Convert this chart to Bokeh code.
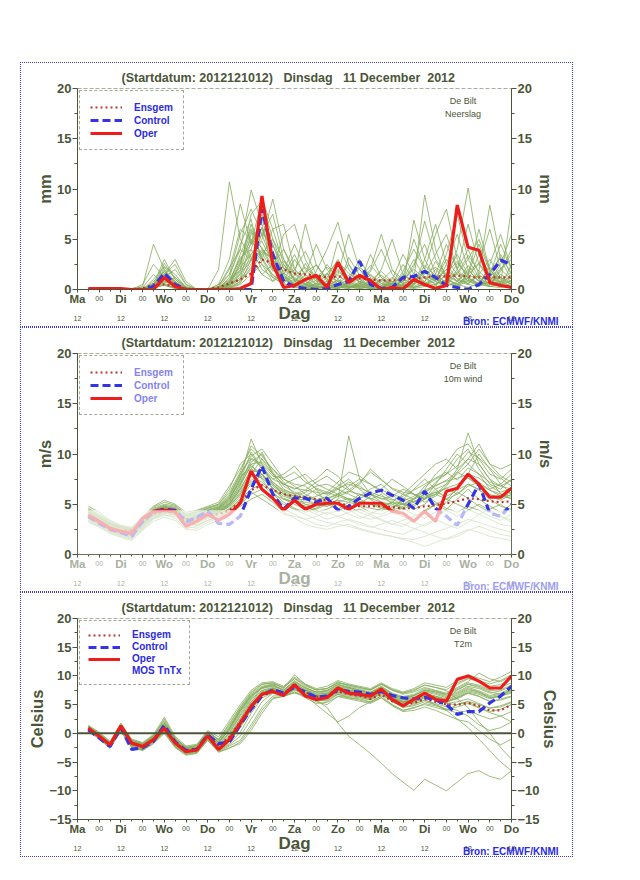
from bokeh.plotting import figure
from bokeh.models import (Range1d, FixedTicker, LinearAxis, Label, ColumnDataSource,
                          Legend, LegendItem, Span, BoxAnnotation, Spacer, Title)
from bokeh.layouts import column, row
from bokeh.embed import file_html
from bokeh.resources import INLINE

# ---------------- data ----------------
lead_hours = [6, 12, 18, 24, 30, 36, 42, 48, 54, 60, 66, 72, 78, 84, 90, 96, 102, 108, 114, 120,
              126, 132, 138, 144, 150, 156, 162, 168, 174, 180, 186, 192, 198, 204, 210, 216, 222, 228, 234, 240]
day_names = ["Ma", "Di", "Wo", "Do", "Vr", "Za", "Zo", "Ma", "Di", "Wo", "Do"]
half_day_label = "00"
noon_label = "12"
title_text = "(Startdatum: 2012121012)\u00a0\u00a0\u00a0Dinsdag\u00a0\u00a0\u00a011 December\u00a0\u00a02012"
source_text = "Bron: ECMWF/KNMI"

# precipitation (mm)
precip_oper = [0.1, 0.1, 0.1, 0.1, 0, 0, 0, 1.2, 0.3, 0,
               0, 0, 0, 0, 0.1, 0.6, 9.3, 2.5, 0.2, 0.4,
               1.0, 1.4, 0.2, 2.7, 0.7, 1.4, 0.9, 0, 0.2, 0.05,
               1.0, 0.5, 0.1, 0.4, 8.4, 4.2, 3.9, 0.7, 0.4, 0.2]
precip_control = [0, 0, 0, 0, 0, 0, 0.3, 1.6, 0.5, 0,
                  0, 0, 0, 0, 0, 0, 8.0, 3.5, 0.8, 0.3,
                  0.1, 0, 0.1, 0.5, 0.8, 2.8, 0.5, 0.1, 0.2, 1.2,
                  1.3, 1.8, 1.2, 0.4, 0.2, 0, 0.5, 1.5, 2.9, 2.5]
precip_mean = [0.05, 0.05, 0.05, 0.05, 0.05, 0.1, 0.5, 0.5, 0.3, 0.05,
               0.05, 0.05, 0.2, 0.6, 1.0, 1.6, 3.0, 2.6, 2.0, 1.6,
               1.5, 1.4, 1.2, 1.3, 1.2, 1.1, 1.0, 0.9, 0.9, 1.0,
               1.1, 1.2, 1.3, 1.3, 1.4, 1.3, 1.2, 1.2, 1.2, 1.2]
precip_members = [
    [0, 0, 0, 0, 0, 0, 0.2, 1.8, 0.5, 0, 0, 0, 2.0, 10.7, 5.0, 3.2, 1.5, 0.8, 2.5, 1.2,
     0.5, 0.3, 1.6, 0.8, 0.2, 0.5, 3.5, 1.2, 0.4, 0.8, 2.2, 6.8, 3.0, 1.5, 0.8, 2.4, 1.0, 0.6, 1.5, 0.8],
    [0, 0, 0, 0, 0.1, 0.3, 4.5, 2.0, 0.6, 0.1, 0, 0, 0.2, 1.5, 4.0, 9.9, 6.5, 2.0, 0.8, 3.0,
     1.5, 0.6, 0.2, 1.0, 2.5, 0.6, 0.3, 1.0, 0.5, 1.5, 0.6, 1.8, 0.9, 3.5, 7.5, 3.0, 1.2, 0.5, 2.0, 3.5],
    [0, 0, 0, 0, 0, 0.5, 2.5, 1.2, 0.2, 0, 0, 0, 0.5, 3.0, 8.5, 4.5, 7.0, 3.5, 1.2, 0.5,
     0.3, 1.8, 4.0, 6.7, 2.5, 1.0, 0.4, 0.2, 0.8, 0.3, 1.0, 9.4, 4.0, 1.0, 0.5, 1.5, 4.5, 1.8, 0.6, 0.2],
    [0, 0, 0, 0, 0, 0, 1.0, 2.3, 1.5, 0.2, 0, 0, 0, 0.8, 2.0, 7.5, 8.8, 5.0, 2.0, 1.0,
     0.5, 0.2, 0.4, 1.5, 5.5, 2.0, 0.6, 0.3, 0.2, 1.8, 4.0, 2.0, 5.5, 8.0, 3.0, 1.0, 0.4, 2.5, 5.5, 2.0],
    [0, 0, 0, 0, 0, 0, 0.5, 1.5, 2.5, 0.5, 0, 0, 0, 0.5, 1.0, 3.5, 5.0, 9.0, 4.0, 1.5,
     6.5, 2.5, 0.8, 0.3, 0.2, 0.6, 2.0, 5.5, 2.0, 0.5, 0.3, 0.8, 2.0, 1.0, 4.0, 10.1, 3.5, 1.0, 0.5, 0.8],
    [0, 0, 0, 0, 0, 0, 0.3, 0.8, 0.3, 0, 0, 0, 0.3, 2.0, 6.0, 5.0, 3.0, 6.0, 6.5, 2.0,
     0.8, 0.3, 0.1, 0.5, 1.0, 3.0, 1.2, 0.4, 0.1, 0.3, 6.9, 3.0, 1.0, 2.0, 0.8, 0.5, 1.8, 8.4, 3.0, 1.0],
    [0, 0, 0, 0, 0, 0, 0.2, 2.0, 0.8, 0, 0, 0, 0.1, 0.6, 3.5, 6.0, 4.0, 2.0, 5.5, 6.5,
     3.0, 1.0, 0.3, 0.1, 0.4, 0.2, 1.5, 0.6, 0.2, 1.0, 3.0, 1.2, 0.5, 1.5, 3.5, 1.5, 6.0, 2.0, 0.6, 8.1],
    [0, 0, 0, 0, 0, 0, 0.4, 1.0, 0.4, 0.1, 0, 0, 0, 0.2, 1.5, 4.0, 7.5, 4.5, 1.5, 0.5,
     0.2, 0.5, 2.5, 1.0, 0.3, 0.1, 0.5, 2.0, 5.0, 1.5, 0.8, 0.3, 1.5, 4.5, 2.0, 6.5, 2.5, 1.0, 3.5, 1.5],
    [0, 0, 0, 0, 0, 0.2, 1.5, 0.5, 0.1, 0, 0, 0, 0.5, 1.5, 5.5, 8.0, 5.5, 2.5, 1.0, 0.5,
     1.5, 4.5, 2.0, 0.5, 0.2, 0.1, 0.3, 1.0, 0.4, 0.2, 0.5, 3.0, 6.5, 2.5, 1.0, 0.6, 1.5, 0.5, 0.3, 2.5],
    [0, 0, 0, 0, 0, 0, 0.3, 1.2, 2.0, 0.5, 0, 0, 0, 0.3, 1.0, 2.5, 4.0, 3.0, 1.8, 4.5,
     2.0, 0.8, 0.5, 0.2, 0.1, 0.8, 0.4, 0.1, 0.2, 0.8, 2.5, 4.5, 1.5, 0.6, 2.0, 4.0, 1.5, 3.0, 1.2, 0.5],
    [0, 0, 0, 0, 0, 0, 0.5, 3.0, 1.0, 0.2, 0, 0, 0, 0.5, 2.5, 6.5, 3.0, 1.2, 0.6, 2.0,
     3.8, 1.5, 0.5, 2.0, 0.8, 0.3, 0.1, 0.2, 0.1, 0.3, 1.0, 0.5, 0.2, 2.5, 5.5, 2.0, 0.8, 0.4, 1.8, 4.0],
    [0, 0, 0, 0, 0, 0, 0.1, 0.5, 0.2, 0, 0, 0, 0.2, 1.0, 3.0, 4.5, 9.0, 6.0, 2.5, 1.0,
     0.4, 0.2, 1.2, 3.0, 1.0, 0.4, 1.8, 4.0, 1.5, 0.5, 0.2, 0.6, 1.2, 0.5, 1.5, 3.0, 5.0, 2.0, 0.8, 0.3],
    [0, 0, 0, 0, 0, 0, 0.2, 1.5, 3.0, 0.8, 0, 0, 0, 0.1, 0.8, 2.0, 3.5, 5.0, 3.0, 1.5,
     0.6, 0.3, 0.2, 0.1, 0.6, 1.5, 0.6, 0.2, 0.5, 2.5, 1.0, 0.4, 0.2, 0.8, 0.3, 1.5, 2.5, 6.0, 2.0, 1.0],
    [0, 0, 0, 0, 0, 0, 0.6, 1.2, 0.4, 0, 0, 0, 0.1, 1.2, 4.5, 7.0, 2.5, 0.8, 1.5, 3.5,
     1.2, 0.5, 0.8, 4.8, 2.0, 0.6, 0.2, 0.1, 0.3, 1.2, 5.0, 2.0, 0.8, 0.3, 0.8, 2.0, 0.8, 0.3, 0.5, 1.5],
    [0, 0, 0, 0, 0, 0, 0.2, 0.6, 0.2, 0, 0, 0, 0, 0.4, 1.8, 5.5, 6.0, 3.5, 1.0, 0.4,
     0.2, 0.1, 0.3, 0.6, 0.3, 0.1, 0.2, 0.8, 0.3, 0.1, 0.4, 1.5, 3.5, 5.5, 2.0, 0.8, 0.4, 1.2, 0.6, 0.2],
    [0, 0, 0, 0, 0, 0, 0.3, 2.6, 1.0, 0.1, 0, 0, 0, 0.2, 0.6, 3.0, 5.5, 7.5, 3.0, 0.8,
     0.3, 0.6, 1.5, 0.8, 0.3, 0.2, 0.5, 0.2, 1.0, 3.5, 1.5, 0.6, 0.2, 0.6, 1.8, 0.8, 3.5, 1.5, 4.5, 2.0],
    [0, 0, 0, 0, 0, 0, 0.1, 0.9, 0.6, 0.1, 0, 0, 0.1, 0.8, 3.2, 4.0, 2.0, 1.2, 0.5, 0.3,
     0.1, 0.2, 0.1, 0.3, 0.1, 0.4, 0.1, 0.1, 0.2, 0.4, 0.2, 0.5, 0.8, 0.4, 0.6, 1.2, 0.4, 0.8, 0.3, 0.6],
    [0, 0, 0, 0, 0, 0, 0.4, 1.6, 0.8, 0, 0, 0, 0.3, 2.2, 4.0, 3.0, 1.5, 2.5, 4.0, 2.0,
     1.0, 2.5, 1.0, 0.4, 0.2, 0.6, 0.3, 0.2, 0.6, 0.3, 0.6, 2.0, 1.0, 3.0, 1.5, 0.5, 0.3, 0.8, 2.5, 5.5],
    [0, 0, 0, 0, 0, 0, 0.2, 0.4, 0.1, 0, 0, 0, 0, 0.1, 0.5, 1.5, 2.5, 1.5, 0.6, 0.2,
     0.1, 0.1, 0.2, 0.1, 0.5, 0.3, 0.1, 0.3, 0.6, 0.2, 0.1, 0.3, 0.5, 1.0, 0.5, 0.2, 0.6, 0.3, 0.2, 0.4],
    [0, 0, 0, 0, 0, 0, 0.8, 1.8, 0.7, 0.2, 0, 0, 0, 0.6, 2.8, 5.0, 4.2, 2.2, 1.0, 0.6,
     2.6, 1.0, 0.4, 0.2, 3.2, 1.4, 0.5, 0.2, 0.1, 0.5, 1.6, 0.8, 2.8, 1.2, 0.4, 1.1, 0.6, 2.2, 1.0, 0.5],
    [0, 0, 0, 0, 0, 0, 0.3, 1.1, 0.4, 0, 0, 0, 0.2, 0.9, 2.2, 3.5, 4.8, 2.6, 1.2, 0.8,
     1.8, 2.4, 1.0, 0.6, 1.4, 2.0, 0.8, 0.4, 1.2, 0.6, 0.9, 1.6, 2.2, 1.4, 0.8, 1.8, 2.6, 1.2, 0.7, 1.3],
    [0, 0, 0, 0, 0, 0, 0.1, 0.7, 1.2, 0.3, 0, 0, 0, 0.4, 1.6, 2.8, 6.2, 3.8, 1.6, 0.9,
     0.6, 1.2, 2.2, 1.4, 0.7, 0.3, 0.9, 1.8, 0.8, 0.4, 1.4, 0.7, 0.4, 1.6, 2.8, 1.2, 0.6, 1.8, 3.2, 1.6],
    [0, 0, 0, 0, 0, 0.1, 0.6, 1.4, 0.6, 0.1, 0, 0, 0.1, 0.5, 1.2, 4.8, 3.6, 1.8, 2.8, 1.6,
     0.8, 0.4, 0.6, 1.8, 0.9, 2.2, 1.4, 0.6, 0.3, 0.9, 2.0, 1.1, 0.6, 0.9, 1.6, 3.4, 1.8, 0.8, 1.2, 0.7],
    [0, 0, 0, 0, 0, 0, 0.2, 1.0, 0.3, 0, 0, 0, 0, 0.3, 2.6, 5.8, 3.2, 1.4, 0.7, 1.4,
     2.2, 1.1, 0.5, 0.3, 0.6, 1.0, 2.4, 1.2, 0.5, 0.2, 0.5, 1.3, 0.9, 2.0, 1.1, 0.6, 1.4, 0.9, 2.1, 3.0],
    [0, 0, 0, 0, 0, 0, 0.4, 2.2, 1.2, 0.2, 0, 0, 0.1, 0.7, 1.9, 3.0, 5.6, 4.4, 2.2, 1.1,
     0.5, 0.9, 1.6, 2.8, 1.6, 0.8, 0.4, 0.9, 1.9, 1.0, 0.6, 2.4, 1.4, 0.7, 2.6, 1.5, 0.9, 0.5, 0.8, 1.8],
    [0, 0, 0, 0, 0, 0, 0.2, 0.8, 0.5, 0.1, 0, 0, 0, 0.2, 0.8, 2.2, 3.8, 3.0, 1.4, 0.6,
     0.3, 0.2, 0.4, 0.9, 0.5, 0.3, 0.6, 1.4, 0.7, 0.3, 0.2, 0.5, 1.0, 0.6, 0.3, 0.9, 0.5, 0.3, 0.6, 0.9],
]

# 10 m wind (m/s)
wind_oper = [3.9, 3.3, 2.6, 2.3, 2.1, 3.6, 4.3, 4.4, 4.3, 2.8,
             3.3, 4.0, 3.4, 4.0, 5.1, 8.3, 6.5, 5.6, 4.4, 5.4,
             4.5, 5.0, 5.1, 5.1, 4.5, 5.1, 5.1, 5.1, 4.3, 4.1,
             3.3, 4.3, 3.3, 6.3, 6.6, 8.0, 7.0, 5.7, 5.7, 6.6]
wind_control = [3.8, 3.1, 2.5, 2.2, 1.8, 3.3, 4.3, 4.5, 4.4, 3.2,
                3.7, 4.3, 3.1, 3.0, 3.8, 6.5, 8.8, 6.0, 4.5, 5.6,
                5.6, 5.2, 5.6, 4.4, 4.8, 5.6, 6.1, 6.4, 5.9, 5.4,
                4.6, 6.3, 4.6, 3.8, 2.9, 5.0, 7.0, 4.1, 3.8, 5.0]
wind_mean = [3.8, 3.2, 2.6, 2.3, 2.4, 3.2, 4.1, 4.3, 4.2, 3.5,
             3.6, 4.0, 4.0, 4.4, 5.2, 6.4, 6.9, 6.4, 6.0, 5.8,
             5.7, 5.5, 5.4, 5.1, 4.9, 4.8, 4.8, 4.8, 4.7, 4.6,
             4.6, 4.8, 4.9, 5.1, 5.3, 5.6, 5.5, 5.3, 5.2, 5.3]
wind_members = [
    [4.2, 3.6, 3.0, 2.6, 2.4, 3.4, 4.3, 4.6, 4.4, 3.6, 3.8, 4.2, 4.5, 5.5, 7.5, 11.5, 9.0, 7.0, 6.2, 5.5,
     5.8, 6.5, 5.0, 4.5, 5.2, 6.0, 5.5, 4.8, 4.2, 4.6, 5.5, 6.8, 7.5, 8.0, 9.5, 10.5, 8.5, 7.0, 6.5, 7.5],
    [3.8, 3.2, 2.6, 2.2, 2.0, 3.0, 4.0, 4.4, 4.2, 3.2, 3.4, 4.0, 4.2, 5.0, 6.5, 8.5, 10.2, 8.0, 6.5, 6.0,
     5.5, 5.0, 4.8, 5.5, 11.8, 7.5, 6.0, 5.2, 4.8, 5.0, 4.5, 5.0, 6.0, 7.0, 8.5, 12.1, 9.0, 7.5, 6.0, 5.5],
    [4.5, 3.9, 3.2, 2.8, 2.6, 3.6, 4.6, 5.0, 4.8, 4.0, 4.2, 4.6, 5.0, 6.5, 9.0, 10.0, 8.5, 7.5, 8.0, 8.8,
     7.5, 6.5, 6.0, 6.8, 7.5, 6.5, 5.5, 6.0, 5.0, 4.5, 5.0, 5.5, 6.0, 5.5, 5.0, 4.5, 4.0, 4.5, 5.0, 4.2],
    [3.5, 3.0, 2.4, 2.0, 1.8, 2.8, 3.8, 4.2, 4.0, 3.0, 3.0, 3.6, 4.0, 4.5, 5.5, 7.0, 8.0, 6.5, 5.5, 5.0,
     4.5, 4.0, 3.5, 3.8, 4.2, 4.5, 4.0, 3.5, 3.0, 2.8, 3.5, 4.2, 5.0, 5.5, 6.0, 7.0, 6.5, 5.5, 4.8, 4.5],
    [4.0, 3.4, 2.8, 2.4, 2.2, 3.2, 4.2, 4.5, 4.3, 3.4, 3.6, 4.0, 4.4, 5.2, 7.0, 9.5, 8.8, 7.5, 7.0, 6.5,
     7.0, 7.5, 8.5, 7.8, 6.5, 5.8, 6.5, 7.0, 6.0, 5.0, 4.8, 5.5, 7.0, 8.5, 10.0, 9.0, 8.0, 6.5, 7.0, 8.0],
    [3.7, 3.1, 2.5, 2.1, 1.9, 2.9, 3.9, 4.3, 4.1, 3.1, 3.2, 3.8, 4.1, 4.8, 6.0, 8.0, 9.5, 8.5, 7.2, 6.0,
     5.0, 4.5, 5.0, 6.0, 5.5, 4.8, 4.2, 4.0, 4.5, 5.5, 6.5, 7.5, 6.5, 5.5, 6.5, 8.0, 10.0, 8.5, 7.0, 6.0],
    [4.8, 4.2, 3.4, 2.9, 2.7, 3.8, 4.8, 5.4, 5.0, 4.2, 4.4, 4.8, 5.2, 6.8, 8.5, 10.5, 9.5, 8.0, 7.0, 7.5,
     8.0, 7.0, 6.5, 6.0, 5.5, 5.0, 5.8, 6.5, 7.5, 6.8, 6.0, 5.5, 6.5, 7.0, 8.0, 9.0, 10.5, 9.0, 8.5, 9.0],
    [3.3, 2.8, 2.2, 1.8, 1.5, 2.5, 3.5, 3.9, 3.8, 2.8, 2.6, 3.2, 3.6, 4.2, 5.0, 6.0, 6.5, 5.5, 4.5, 4.0,
     3.5, 3.0, 2.8, 3.2, 3.5, 3.2, 2.8, 2.5, 2.2, 2.0, 2.5, 3.0, 3.5, 3.0, 2.6, 3.2, 4.0, 3.5, 3.0, 2.8],
    [4.1, 3.5, 2.9, 2.5, 2.3, 3.3, 4.1, 4.4, 4.0, 3.0, 3.5, 4.1, 4.3, 5.0, 6.8, 9.0, 7.5, 6.0, 5.5, 5.2,
     4.8, 4.2, 4.5, 5.0, 4.5, 3.8, 3.5, 3.8, 4.2, 3.8, 3.2, 2.8, 3.5, 4.5, 5.5, 6.5, 5.5, 4.8, 4.2, 5.0],
    [3.9, 3.3, 2.7, 2.3, 2.1, 3.1, 4.0, 4.6, 4.5, 3.8, 3.9, 4.4, 4.8, 5.8, 8.0, 9.8, 10.5, 9.0, 7.5, 6.8,
     6.0, 5.5, 5.2, 5.8, 6.2, 7.0, 8.5, 7.5, 6.5, 6.0, 7.0, 8.0, 9.0, 9.5, 8.5, 9.5, 9.0, 7.5, 6.8, 6.5],
    [3.6, 3.0, 2.4, 2.0, 1.7, 2.7, 3.6, 4.0, 3.6, 2.6, 2.8, 3.4, 3.8, 4.4, 5.5, 6.5, 7.0, 6.0, 5.0, 4.5,
     4.0, 3.5, 3.2, 3.0, 2.8, 2.5, 2.2, 2.0, 1.8, 1.6, 1.5, 1.8, 2.2, 2.6, 3.0, 3.5, 3.2, 2.8, 2.5, 2.2],
    [4.3, 3.7, 3.1, 2.7, 2.5, 3.5, 4.4, 4.8, 4.6, 3.8, 4.0, 4.5, 4.7, 5.8, 7.8, 8.5, 8.0, 7.0, 6.0, 5.8,
     6.2, 6.8, 7.0, 6.5, 6.0, 5.5, 5.0, 4.8, 5.2, 6.0, 5.5, 6.0, 5.2, 4.6, 4.2, 4.8, 4.4, 3.8, 3.4, 4.0],
    [3.4, 2.9, 2.3, 1.9, 1.6, 2.6, 3.6, 4.1, 3.9, 3.0, 2.9, 3.4, 3.7, 4.3, 5.2, 6.2, 5.5, 4.8, 4.0, 3.8,
     3.5, 3.8, 4.2, 3.8, 3.4, 3.0, 2.7, 3.0, 3.4, 3.0, 2.6, 2.2, 1.8, 1.5, 1.8, 2.4, 2.8, 2.4, 2.0, 1.8],
    [4.6, 4.0, 3.3, 2.8, 2.6, 3.7, 4.7, 5.2, 4.9, 4.0, 4.3, 4.7, 5.0, 6.2, 8.2, 10.8, 9.8, 8.5, 7.5, 7.0,
     6.8, 6.0, 5.5, 6.0, 6.8, 7.5, 7.0, 6.2, 5.5, 5.0, 5.5, 6.5, 8.0, 9.0, 10.5, 11.0, 9.5, 8.0, 7.5, 8.5],
    [3.2, 2.7, 2.1, 1.7, 1.4, 2.4, 3.3, 3.7, 3.4, 2.5, 2.4, 3.0, 3.4, 4.0, 4.8, 5.5, 6.0, 5.2, 4.2, 3.6,
     3.0, 2.7, 2.5, 2.8, 3.0, 2.6, 2.3, 2.0, 1.8, 1.5, 1.2, 0.8, 1.2, 1.6, 2.0, 2.5, 2.2, 1.8, 1.6, 1.4],
    [4.0, 3.4, 2.8, 2.4, 2.2, 3.2, 4.2, 4.7, 4.6, 3.6, 3.7, 4.2, 4.6, 5.6, 7.2, 9.2, 10.0, 8.2, 6.8, 6.2,
     5.8, 5.4, 5.8, 6.5, 7.2, 6.8, 6.0, 5.5, 5.8, 6.5, 6.0, 5.2, 5.8, 6.8, 8.2, 9.5, 11.0, 9.0, 7.8, 7.2],
    [3.6, 3.1, 2.5, 2.1, 1.9, 2.8, 3.7, 4.2, 4.1, 3.2, 3.3, 3.9, 4.2, 4.9, 6.2, 7.8, 7.2, 6.2, 5.2, 4.6,
     4.2, 4.6, 5.2, 4.6, 4.0, 3.6, 4.0, 4.6, 5.2, 4.6, 4.0, 3.6, 4.2, 5.2, 6.2, 5.6, 4.8, 4.2, 3.8, 3.4],
    [4.4, 3.8, 3.1, 2.7, 2.5, 3.5, 4.5, 4.9, 4.7, 3.9, 4.1, 4.6, 4.9, 6.0, 8.0, 9.6, 9.0, 7.8, 7.6, 8.2,
     7.2, 6.6, 6.2, 7.2, 8.2, 7.8, 7.0, 6.4, 6.0, 5.6, 5.2, 6.0, 7.2, 8.0, 8.8, 10.2, 9.6, 8.6, 7.6, 6.8],
    [3.8, 3.2, 2.6, 2.2, 2.0, 3.0, 3.9, 4.3, 4.0, 3.1, 3.2, 3.7, 4.0, 4.6, 5.8, 7.2, 7.8, 6.6, 5.6, 5.2,
     4.8, 4.4, 4.0, 4.4, 4.8, 4.2, 3.8, 3.4, 3.0, 3.4, 3.8, 4.4, 5.0, 4.4, 3.8, 4.4, 5.0, 4.4, 3.8, 3.2],
    [4.2, 3.6, 3.0, 2.6, 2.4, 3.4, 4.4, 4.8, 4.5, 3.5, 3.7, 4.3, 4.6, 5.4, 7.4, 10.2, 8.6, 7.2, 6.4, 6.0,
     6.4, 7.2, 7.8, 7.0, 6.4, 7.2, 8.2, 7.4, 6.6, 6.2, 6.0, 5.6, 6.0, 6.6, 7.0, 7.6, 6.8, 6.0, 5.6, 6.2],
    [4.0, 3.4, 2.7, 2.3, 2.1, 3.2, 4.1, 4.5, 4.3, 3.4, 3.5, 4.1, 4.4, 5.1, 6.6, 8.2, 8.4, 7.2, 6.3, 5.8,
     5.6, 5.4, 5.6, 6.0, 6.3, 6.0, 5.6, 5.2, 5.0, 5.3, 5.8, 6.4, 6.9, 7.3, 7.6, 8.0, 7.6, 6.8, 6.2, 6.6],
    [3.7, 3.1, 2.5, 2.1, 1.9, 3.0, 3.9, 4.3, 4.1, 3.2, 3.3, 3.9, 4.2, 4.8, 6.0, 7.4, 8.0, 7.0, 6.0, 5.4,
     5.0, 4.8, 5.0, 5.4, 5.2, 4.9, 4.6, 4.4, 4.7, 5.0, 5.3, 5.6, 6.2, 6.6, 6.0, 6.8, 7.2, 6.4, 5.8, 5.6],
    [4.3, 3.7, 3.0, 2.6, 2.4, 3.5, 4.4, 4.7, 4.5, 3.6, 3.8, 4.4, 4.7, 5.6, 7.6, 9.0, 9.2, 8.0, 7.0, 6.6,
     6.4, 6.2, 6.0, 6.6, 7.0, 6.6, 6.2, 5.8, 5.4, 5.8, 6.4, 7.0, 7.6, 8.2, 7.4, 8.6, 8.0, 7.2, 6.8, 7.4],
    [3.9, 3.3, 2.6, 2.2, 2.0, 3.1, 4.0, 4.4, 4.2, 3.3, 3.4, 4.0, 4.3, 5.0, 6.4, 8.0, 7.6, 6.6, 5.8, 5.4,
     5.2, 5.0, 4.8, 5.2, 5.6, 5.3, 5.0, 4.6, 4.4, 4.8, 5.2, 5.8, 6.2, 5.8, 6.4, 7.0, 6.4, 5.8, 5.4, 6.0],
    [4.1, 3.5, 2.8, 2.4, 2.2, 3.3, 4.2, 4.6, 4.4, 3.5, 3.6, 4.2, 4.5, 5.3, 7.0, 8.8, 8.0, 6.8, 6.0, 5.6,
     5.4, 5.8, 6.2, 5.8, 5.4, 5.6, 6.0, 5.6, 5.2, 5.0, 5.6, 6.2, 6.8, 7.4, 8.2, 7.6, 7.0, 6.4, 6.0, 5.8],
]

# 2 m temperature (Celsius)
t2m_oper = [0.9, -0.5, -2.0, 1.3, -1.7, -2.3, -1.1, 0.9, -1.7, -3.2,
            -2.9, -0.4, -2.8, -1.1, 1.8, 4.7, 6.8, 7.3, 6.6, 8.5,
            6.5, 5.9, 6.2, 7.9, 7.0, 6.8, 6.5, 7.7, 5.9, 4.8,
            5.9, 7.0, 5.9, 5.6, 9.4, 10.0, 9.1, 7.9, 7.9, 10.0]
t2m_control = [0.6, -0.8, -2.3, 1.0, -2.8, -2.5, -1.4, 1.4, -1.5, -3.0,
               -2.8, -0.3, -1.8, -1.5, 1.5, 4.2, 6.5, 7.6, 7.0, 8.0,
               7.2, 6.3, 6.5, 7.6, 7.3, 7.2, 6.8, 7.3, 6.6, 6.2,
               6.0, 6.3, 5.8, 5.0, 3.3, 3.8, 3.8, 5.3, 6.5, 8.2]
t2m_mean = [0.8, -0.5, -2.0, 1.0, -1.8, -2.3, -1.0, 1.0, -1.6, -3.0,
            -2.7, -0.4, -2.2, -0.6, 2.0, 4.8, 6.8, 7.6, 7.0, 8.2,
            7.2, 6.4, 6.4, 7.3, 6.8, 6.5, 6.0, 6.8, 5.6, 4.9,
            5.3, 6.0, 5.5, 5.0, 5.0, 5.3, 4.8, 4.0, 4.0, 5.0]
t2m_members = [
    [1.0, -0.3, -1.8, 1.0, -1.5, -2.0, -0.8, 1.5, -1.2, -2.8, -2.5, -0.2, -1.5, 0.5, 3.5, 6.0, 7.5, 8.0, 7.2, 8.8,
     7.5, 6.8, 7.0, 8.2, 7.6, 7.2, 6.8, 7.8, 6.5, 5.8, 6.2, 7.0, 6.5, 6.0, 7.5, 8.5, 8.0, 7.2, 6.8, 7.5],
    [0.6, -0.8, -2.4, 0.6, -2.2, -2.8, -1.5, 0.5, -2.2, -3.5, -3.2, -1.0, -3.0, -2.0, -0.5, 2.5, 5.5, 7.0, 6.8, 7.5,
     6.8, 6.0, 6.2, 7.2, 6.8, 6.5, 6.0, 7.0, 5.5, 4.5, 4.8, 5.5, 5.0, 4.2, 3.5, 4.0, 3.2, 2.5, 3.0, 3.8],
    [1.3, 0.0, -1.5, 1.6, -1.2, -1.8, -0.5, 2.5, -0.8, -2.5, -2.2, 0.3, -1.0, 1.5, 4.5, 7.0, 8.5, 8.8, 7.8, 10.2,
     8.5, 7.5, 7.8, 9.0, 8.2, 7.8, 7.5, 8.5, 7.5, 6.8, 7.2, 8.0, 7.5, 7.0, 8.5, 9.5, 9.0, 8.2, 8.5, 9.5],
    [0.4, -1.0, -2.6, 0.3, -2.5, -3.0, -1.8, 0.0, -2.5, -3.8, -3.5, -1.2, -3.2, -2.5, -1.8, 0.5, 3.5, 6.0, 6.5, 7.0,
     6.5, 5.5, 5.0, 6.5, 6.2, 6.0, 5.5, 6.5, 5.0, 4.0, 4.5, 5.0, 4.5, 4.0, 5.0, 5.5, 4.5, 3.8, 4.2, 5.0],
    [0.9, -0.4, -1.9, 1.2, -1.8, -2.4, -1.0, 1.0, -1.6, -3.0, -2.8, -0.5, -2.5, -0.8, 2.0, 5.0, 7.0, 7.5, 7.0, 8.2,
     7.0, 6.2, 6.5, 7.5, 7.0, 6.8, 6.2, 7.2, 6.0, 5.2, 5.5, 6.5, 6.0, 5.5, 6.0, 7.0, 6.5, 5.5, 6.0, 6.5],
    [1.1, -0.2, -1.7, 1.4, -1.4, -1.9, -0.6, 1.8, -1.0, -2.6, -2.4, 0.0, -1.8, 0.8, 4.0, 6.5, 8.0, 8.5, 7.5, 9.0,
     8.0, 7.2, 7.5, 8.5, 8.0, 7.5, 7.0, 8.0, 6.8, 6.0, 6.5, 7.5, 7.2, 6.8, 8.0, 9.0, 10.5, 9.5, 9.0, 10.0],
    [0.7, -0.7, -2.2, 0.8, -2.0, -2.6, -1.3, 0.6, -2.0, -3.3, -3.0, -0.8, -2.8, -1.5, 1.0, 4.0, 6.5, 7.2, 6.6, 7.8,
     6.8, 5.0, 3.5, 2.0, 3.0, 4.5, 5.5, 6.5, 6.0, 5.5, 6.0, 6.8, 6.2, 5.5, 6.2, 7.2, 6.8, 6.0, 6.5, 7.0],
    [0.8, -0.6, -2.1, 1.1, -1.9, -2.5, -1.2, 0.8, -1.8, -3.1, -2.9, -0.6, -2.6, -1.2, 1.5, 4.5, 6.8, 7.8, 7.2, 8.0,
     6.5, 5.8, 4.5, 1.8, -0.5, -2.0, -3.5, -5.2, -7.0, -8.5, -9.9, -8.0, -9.0, -10.0, -8.5, -7.0, -6.5, -7.5, -8.0, -6.5],
    [1.2, -0.1, -1.6, 1.5, -1.3, -1.8, -0.4, 2.0, -0.9, -2.4, -2.1, 0.2, -1.2, 1.2, 4.2, 6.8, 8.2, 8.6, 8.0, 9.5,
     8.2, 7.6, 7.8, 8.8, 8.4, 8.0, 7.6, 8.6, 7.6, 7.0, 7.6, 8.4, 8.0, 7.4, 6.0, 4.5, 2.0, 0.0, -2.5, -4.5],
    [0.5, -0.9, -2.5, 0.5, -2.3, -2.9, -1.6, 0.3, -2.3, -3.6, -3.3, -1.1, -3.1, -2.2, -1.2, 1.5, 4.5, 6.5, 6.6, 7.2,
     6.6, 5.8, 5.6, 6.8, 6.4, 6.2, 5.8, 6.8, 5.6, 4.6, 5.0, 5.8, 5.2, 4.6, 4.0, 3.0, 1.5, 0.5, 1.0, 2.0],
    [1.0, -0.4, -1.9, 1.3, -1.6, -2.2, -0.9, 1.2, -1.4, -2.9, -2.6, -0.3, -2.0, 0.0, 3.0, 5.5, 7.2, 7.6, 7.0, 8.4,
     7.2, 6.4, 6.6, 7.6, 7.2, 7.0, 6.6, 7.4, 6.2, 5.4, 5.8, 6.8, 6.4, 5.8, 6.8, 7.8, 7.2, 6.2, 6.4, 7.2],
    [0.8, -0.5, -2.0, 1.2, -1.7, -2.3, -1.1, 1.1, -1.5, -3.0, -2.7, -0.4, -2.2, -0.5, 2.5, 5.2, 7.0, 7.4, 6.8, 8.0,
     7.0, 6.5, 6.8, 7.8, 7.3, 7.0, 6.5, 7.5, 6.3, 5.5, 5.2, 5.8, 5.0, 4.0, 2.5, 1.0, -1.0, -3.0, -5.0, -6.5],
    [1.4, 0.2, -1.4, 1.8, -1.0, -1.6, -0.2, 2.8, -0.5, -2.2, -1.9, 0.5, -0.6, 2.2, 5.0, 7.5, 8.8, 9.0, 8.2, 9.8,
     8.6, 7.8, 8.2, 9.2, 8.6, 8.2, 7.8, 8.8, 7.8, 7.2, 7.8, 8.8, 8.4, 8.0, 9.2, 10.2, 9.6, 9.0, 9.8, 10.8],
    [0.6, -0.7, -2.3, 0.7, -2.1, -2.7, -1.4, 0.4, -2.1, -3.4, -3.1, -0.9, -2.9, -1.8, 0.2, 3.5, 6.2, 7.0, 6.5, 7.6,
     6.8, 6.0, 6.0, 7.0, 6.6, 6.4, 6.0, 7.0, 5.8, 5.0, 5.4, 6.2, 5.8, 5.2, 5.5, 6.0, 5.2, 4.4, 4.8, 5.5],
    [1.1, -0.3, -1.8, 1.3, -1.6, -2.1, -0.8, 1.4, -1.3, -2.8, -2.5, -0.1, -1.6, 0.6, 3.8, 6.2, 7.8, 8.2, 7.4, 8.6,
     7.6, 7.0, 7.2, 8.2, 7.8, 7.4, 7.0, 8.0, 6.8, 6.2, 6.6, 7.4, 7.0, 6.4, 7.2, 8.2, 7.8, 7.0, 7.4, 8.2],
    [0.7, -0.6, -2.1, 0.9, -1.9, -2.5, -1.2, 0.7, -1.9, -3.2, -2.9, -0.7, -2.7, -1.4, 1.2, 4.2, 6.6, 7.4, 6.8, 7.8,
     6.6, 5.6, 5.8, 6.8, 6.2, 5.8, 5.4, 6.2, 4.8, 3.8, 4.0, 4.6, 4.0, 3.2, 2.4, 2.0, 0.5, -1.0, -2.0, -1.0],
    [1.0, -0.2, -1.7, 1.4, -1.5, -2.0, -0.7, 1.6, -1.1, -2.7, -2.4, 0.1, -1.4, 1.0, 4.2, 6.6, 8.0, 8.4, 7.6, 9.2,
     7.8, 7.2, 7.4, 8.6, 8.0, 7.6, 7.2, 8.2, 7.0, 6.4, 6.8, 7.8, 7.4, 6.8, 7.8, 8.8, 8.4, 7.6, 8.0, 8.8],
    [0.9, -0.5, -2.0, 1.1, -1.8, -2.4, -1.1, 0.9, -1.7, -3.1, -2.8, -0.5, -2.4, -1.0, 1.8, 4.8, 7.0, 7.6, 7.0, 8.2,
     7.0, 6.2, 6.4, 7.4, 7.0, 6.6, 6.2, 7.2, 6.0, 5.4, 5.8, 6.6, 6.2, 5.6, 6.4, 7.4, 7.0, 6.2, 6.6, 7.4],
    [0.5, -0.8, -2.4, 0.4, -2.4, -2.9, -1.7, 0.2, -2.4, -3.7, -3.4, -1.2, -3.3, -2.6, -1.5, 1.0, 4.0, 6.2, 6.4, 7.2,
     6.2, 5.2, 5.4, 6.4, 6.0, 5.6, 5.2, 6.2, 5.0, 4.0, 4.4, 5.2, 4.8, 4.2, 4.6, 5.2, 4.4, 3.6, 3.0, 2.0],
    [1.2, 0.0, -1.6, 1.6, -1.2, -1.7, -0.4, 2.2, -0.8, -2.4, -2.1, 0.3, -1.1, 1.8, 4.6, 7.2, 8.6, 8.8, 8.0, 9.6,
     8.4, 7.6, 7.8, 8.8, 8.4, 8.0, 7.6, 8.6, 7.6, 7.0, 7.4, 8.4, 8.0, 7.6, 8.8, 9.6, 9.2, 8.6, 9.2, 10.2],
    [0.8, -0.6, -2.1, 1.1, -1.8, -2.4, -1.1, 1.0, -1.6, -3.0, -2.7, -0.4, -2.2, -0.3, 2.6, 5.4, 7.2, 7.8, 7.2, 8.4,
     7.4, 6.6, 6.8, 7.8, 7.4, 7.0, 6.6, 7.6, 6.4, 5.6, 6.0, 6.8, 6.4, 5.9, 6.6, 7.6, 7.2, 6.4, 6.8, 7.6],
    [1.0, -0.4, -1.9, 1.2, -1.7, -2.2, -0.9, 1.3, -1.4, -2.9, -2.6, -0.3, -1.9, 0.2, 3.2, 5.8, 7.4, 7.9, 7.1, 8.6,
     7.6, 6.8, 7.0, 8.0, 7.5, 7.2, 6.8, 7.8, 6.6, 5.9, 6.3, 7.2, 6.8, 6.2, 7.0, 8.0, 7.4, 6.6, 7.0, 7.8],
    [0.7, -0.7, -2.2, 0.9, -2.0, -2.6, -1.3, 0.7, -1.9, -3.2, -2.9, -0.7, -2.6, -1.2, 1.4, 4.4, 6.6, 7.4, 6.9, 7.9,
     6.9, 6.1, 6.2, 7.2, 6.8, 6.5, 6.1, 7.1, 5.9, 5.1, 5.4, 6.2, 5.8, 5.2, 5.0, 5.6, 5.0, 4.4, 4.6, 5.4],
    [0.9, -0.5, -2.0, 1.2, -1.8, -2.3, -1.0, 1.1, -1.5, -3.0, -2.7, -0.5, -2.3, -0.6, 2.2, 5.0, 7.0, 7.6, 7.0, 8.2,
     7.2, 6.4, 6.6, 7.6, 7.2, 6.8, 6.4, 7.4, 6.2, 5.4, 5.7, 6.4, 6.0, 5.4, 6.2, 7.0, 6.4, 5.6, 5.8, 6.4],
    [1.1, -0.2, -1.7, 1.4, -1.4, -2.0, -0.7, 1.7, -1.1, -2.6, -2.4, 0.1, -1.6, 0.9, 3.9, 6.4, 7.9, 8.3, 7.5, 8.9,
     7.9, 7.2, 7.4, 8.4, 7.9, 7.5, 7.1, 8.1, 6.9, 6.2, 6.6, 7.6, 7.2, 6.6, 7.6, 8.6, 8.2, 7.4, 7.6, 8.4],
]
mos_hours = []
mos_values = []

# ---------------- styling ----------------
TXT = "#4b5638"
BLUE = "#2b2be0"
FONT = "Liberation Sans"
FW, FH = 432, 199
t_days = [h / 24 for h in lead_hours]


def style_axis_common(ax):
    ax.axis_label_text_font = FONT
    ax.axis_label_text_font_style = "bold"
    ax.major_label_text_font = FONT


def make_panel(ylo, yhi, ymajor, yminor, ylabel, site, param, members, mean, control, oper,
               faded=False, mos=False, right_label_standoff=2):
    p = figure(frame_width=FW, frame_height=FH, x_range=Range1d(0, 10), y_range=Range1d(ylo, yhi),
               output_backend="svg", toolbar_location=None,
               min_border_left=56, min_border_right=63, min_border_top=25, min_border_bottom=39)
    p.styles = {"border": "1px dotted #3a3ae0"}
    p.grid.visible = False
    p.outline_line_color = "#a8b0a0"
    p.outline_line_dash = "4 2"
    p.background_fill_color = "white"
    p.border_fill_color = "white"

    p.title.text = title_text
    p.title.text_font = FONT
    p.title.text_font_size = "12.5px"
    p.title.text_font_style = "bold"
    p.title.text_color = TXT
    p.title.align = "left"
    p.title.offset = 44
    p.title.standoff = 7

    lab_col = "#a9b1a0" if faded else TXT

    # axis A: ticks + "00" labels at half days
    xa = p.xaxis[0]
    xa.ticker = FixedTicker(ticks=[i * 0.5 for i in range(21)], minor_ticks=[i * 0.25 for i in range(41)])
    xa.major_label_overrides = {i * 0.5: ("" if i % 2 == 0 else half_day_label) for i in range(21)}
    style_axis_common(xa)
    xa.major_label_text_font_size = "7px"
    xa.major_label_text_color = lab_col
    xa.major_label_standoff = 3
    xa.axis_line_color = TXT
    xa.major_tick_out = 3
    xa.major_tick_in = 0
    xa.minor_tick_out = 2
    xa.minor_tick_in = 0
    xa.major_tick_line_color = TXT
    xa.minor_tick_line_color = TXT

    # axis B: day names + "Dag"
    xb = LinearAxis(ticker=FixedTicker(ticks=list(range(11))),
                    major_label_overrides={i: d for i, d in enumerate(day_names)})
    style_axis_common(xb)
    xb.major_label_text_font_size = "11.5px"
    xb.major_label_text_font_style = "bold"
    xb.major_label_text_color = lab_col
    xb.major_label_standoff = -11
    xb.axis_line_color = None
    xb.major_tick_line_color = None
    xb.minor_tick_line_color = None
    xb.major_tick_out = 0
    xb.major_tick_in = 0
    xb.axis_label = "Dag"
    xb.axis_label_text_font_size = "17px"
    xb.axis_label_text_color = lab_col
    xb.axis_label_standoff = -4
    p.add_layout(xb, "below")

    # axis C: "12" labels under each day
    xc = LinearAxis(ticker=FixedTicker(ticks=list(range(11))),
                    major_label_overrides={i: noon_label for i in range(11)})
    style_axis_common(xc)
    xc.major_label_text_font_size = "7px"
    xc.major_label_text_color = lab_col
    xc.major_label_standoff = -10
    xc.axis_line_color = None
    xc.major_tick_line_color = None
    xc.minor_tick_line_color = None
    xc.major_tick_out = 0
    xc.major_tick_in = 0
    p.add_layout(xc, "below")

    bron = Title(text=source_text, align="right", offset=-47, standoff=-20, vertical_align="top",
                 text_font=FONT, text_font_size="10px", text_font_style="bold",
                 text_color="#9c9cf0" if faded else BLUE)
    p.add_layout(bron, "below")

    ra = LinearAxis()
    p.add_layout(ra, "right")
    for ax in (p.yaxis[0], ra):
        ax.ticker = FixedTicker(ticks=ymajor, minor_ticks=yminor)
        style_axis_common(ax)
        ax.major_label_text_font_size = "13px"
        ax.major_label_text_font_style = "bold"
        ax.major_label_text_color = TXT
        ax.major_label_standoff = 1
        ax.axis_label = ylabel
        ax.axis_label_text_font_size = "16.5px"
        ax.axis_label_text_color = TXT
        ax.axis_label_standoff = 0
        ax.axis_line_color = TXT
        ax.major_tick_out = 5
        ax.major_tick_in = 0
        ax.minor_tick_out = 3
        ax.minor_tick_in = 0
        ax.major_tick_line_color = TXT
        ax.minor_tick_line_color = TXT
    ra.axis_label_standoff = right_label_standoff

    if ylo < 0:
        p.add_layout(Span(location=0, dimension="width", line_color=TXT, line_width=2))

    xs = [t_days[:len(m)] for m in members]
    p.multi_line(xs, members, line_color="#86ad5c", line_alpha=0.8, line_width=1)
    r_mean = p.line(t_days, mean, line_color="#b8362a", line_width=2.2, line_dash="2 3")
    r_ctrl = p.line(t_days, control, line_color="#3434e6", line_width=3.2, line_dash="8 4")
    r_oper = p.line(t_days, oper, line_color="#f01c1c", line_width=3.2)
    items = [LegendItem(label="Ensgem", renderers=[r_mean]),
             LegendItem(label="Control", renderers=[r_ctrl]),
             LegendItem(label="Oper", renderers=[r_oper])]
    if mos:
        src = ColumnDataSource(dict(x=[h / 24 for h in mos_hours], y=mos_values))
        r_mos = p.scatter("x", "y", source=src, size=6, fill_color="#7a5a2a", line_color="#4b6a2a")
        items.append(LegendItem(label="MOS TnTx", renderers=[r_mos]))

    leg = Legend(items=items, location="top_left")
    leg.label_text_font = FONT
    leg.label_text_font_size = "10px"
    leg.label_text_font_style = "bold"
    leg.label_text_color = "#8484f0" if faded else BLUE
    leg.border_line_color = TXT
    leg.border_line_dash = "dotted"
    leg.background_fill_color = "white"
    leg.background_fill_alpha = 1
    leg.glyph_width = 32
    leg.label_standoff = 12
    leg.margin = 2
    if mos:
        leg.padding = 8
        leg.spacing = 1
        leg.label_height = 10
        leg.glyph_height = 10
    else:
        leg.padding = 10
        leg.spacing = 1
        leg.label_height = 12
        leg.glyph_height = 12
    p.add_layout(leg)

    dy = (yhi - ylo) / FH
    p.add_layout(Label(x=8.88, y=yhi - 12 * dy, text=site, text_align="center", text_baseline="middle",
                       text_font=FONT, text_font_size="9px", text_color=TXT))
    p.add_layout(Label(x=8.88, y=yhi - 25 * dy, text=param, text_align="center", text_baseline="middle",
                       text_font=FONT, text_font_size="9px", text_color=TXT))

    if faded:
        p.add_layout(BoxAnnotation(bottom=ylo, top=4.4, fill_color="white", fill_alpha=0.65, line_alpha=0))
    return p


p1 = make_panel(0, 20, [0, 5, 10, 15, 20], [2.5, 7.5, 12.5, 17.5], "mm", "De Bilt", "Neerslag",
                precip_members, precip_mean, precip_control, precip_oper, right_label_standoff=2)
p2 = make_panel(0, 20, [0, 5, 10, 15, 20], [2.5, 7.5, 12.5, 17.5], "m/s", "De Bilt", "10m wind",
                wind_members, wind_mean, wind_control, wind_oper, faded=True, right_label_standoff=2)
p3 = make_panel(-15, 20, [-15, -10, -5, 0, 5, 10, 15, 20],
                [-12.5, -7.5, -2.5, 2.5, 7.5, 12.5, 17.5], "Celsius", "De Bilt", "T2m",
                t2m_members, t2m_mean, t2m_control, t2m_oper, mos=True, right_label_standoff=-2)

layout = column(Spacer(width=10, height=62),
                row(Spacer(width=20, height=10), column(p1, p2, p3)))

open("out.html", "w").write(file_html(layout, INLINE))
